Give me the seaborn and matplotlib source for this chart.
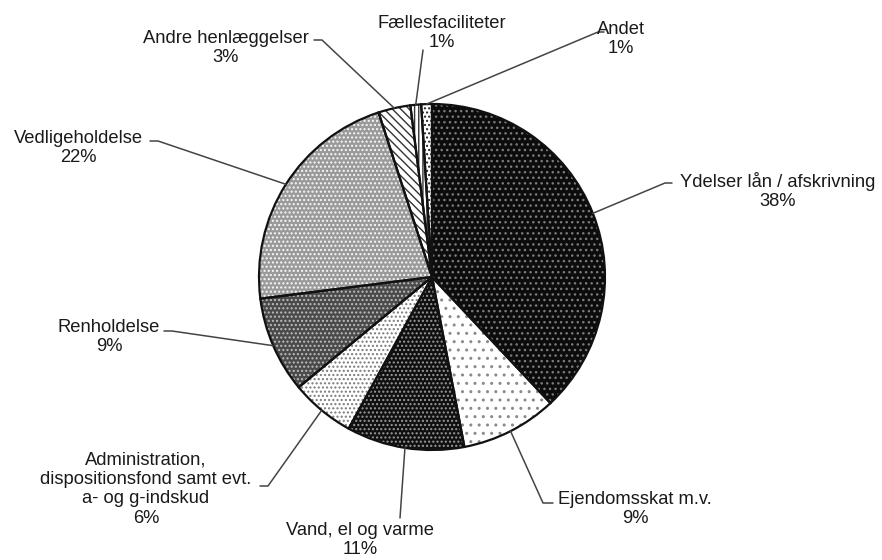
import matplotlib
matplotlib.use("Agg")
import matplotlib.pyplot as plt
import seaborn as sns
import numpy as np

# ==========================================
# DATA
# ==========================================

categories = [
    "Ydelser lån / afskrivning",
    "Ejendomsskat m.v.",
    "Vand, el og varme",
    "Administration,\ndispositionsfond samt evt.\na- og g-indskud",
    "Renholdelse",
    "Vedligeholdelse",
    "Andre henlæggelser",
    "Fællesfaciliteter",
    "Andet",
]
shares = [38, 9, 11, 6, 9, 22, 3, 1, 1]

# ==========================================
# STYLE
# ==========================================

sns.set_theme(style="white")
plt.rcParams["font.family"] = ["Liberation Sans", "DejaVu Sans"]
plt.rcParams["hatch.linewidth"] = 1.0

# face colour, hatch colour, hatch pattern per slice
faces = ["#0c0c0c", "#ffffff", "#101010", "#ffffff", "#4a4a4a", "#9a9a9a", "#ffffff", "#ffffff", "#ffffff"]
hatch_cols = ["#7a7a7a", "#8a8a8a", "#9a9a9a", "#7a7a7a", "#bdbdbd", "#f8f8f8", "#333333", "#333333", "#222222"]
hatches = ["...", "..", "....", "....", "....", "....", "\\\\\\\\", "||||", "...."]

W, H = 882, 560
cx, cy, R = 432, 277, 173

# label layout in pixels: text centre, line end near text, elbow
label_layout = [
    ((778, 191), (672, 183), (665, 183)),
    ((635, 509), (553, 503), (543, 503)),
    ((360, 540), (400, 518), (400, 518)),
    ((146, 489), (260, 486), (268, 486)),
    ((109, 337), (164, 331), (172, 331)),
    ((78, 148), (150, 141), (158, 141)),
    ((226, 48), (314, 40), (322, 40)),
    ((442, 33), (423, 50), (423, 50)),
    ((621, 39), (604, 32), (598, 32)),
]


def py(y):
    return H - y


fig = plt.figure(figsize=(W / 100, H / 100), dpi=100)
ax = fig.add_axes([0, 0, 1, 1])

# hatch layer
wedges, _ = ax.pie(
    shares,
    startangle=90,
    counterclock=False,
    center=(cx, py(cy)),
    radius=R,
    colors=faces,
    wedgeprops=dict(linewidth=0),
)
for w, hc, ht in zip(wedges, hatch_cols, hatches):
    w.set_edgecolor(hc)
    w.set_hatch(ht)

# outline layer
ax.pie(
    shares,
    startangle=90,
    counterclock=False,
    center=(cx, py(cy)),
    radius=R,
    wedgeprops=dict(fill=False, edgecolor="#111111", linewidth=1.6),
)

# ==========================================
# LABELS + LEADER LINES
# ==========================================

total = sum(shares)
cum = np.cumsum([0] + shares)
for i, (name, val) in enumerate(zip(categories, shares)):
    mid = 90 - 360 * (cum[i] + val / 2) / total
    ex = cx + R * np.cos(np.radians(mid))
    ey = py(cy) + R * np.sin(np.radians(mid))
    (tx, ty), (lx, ly), (bx, by) = label_layout[i]
    ax.plot([ex, bx, lx], [ey, py(by), py(ly)], color="#444444", linewidth=1.1, zorder=1)
    ax.text(tx, py(ty), f"{name}\n{val}%", ha="center", va="center",
            fontsize=13.2, color="#1a1a1a", linespacing=1.2)

ax.set_xlim(0, W)
ax.set_ylim(0, H)
ax.set_aspect("equal")
ax.axis("off")

plt.savefig("out.png", dpi=100, facecolor="white")
